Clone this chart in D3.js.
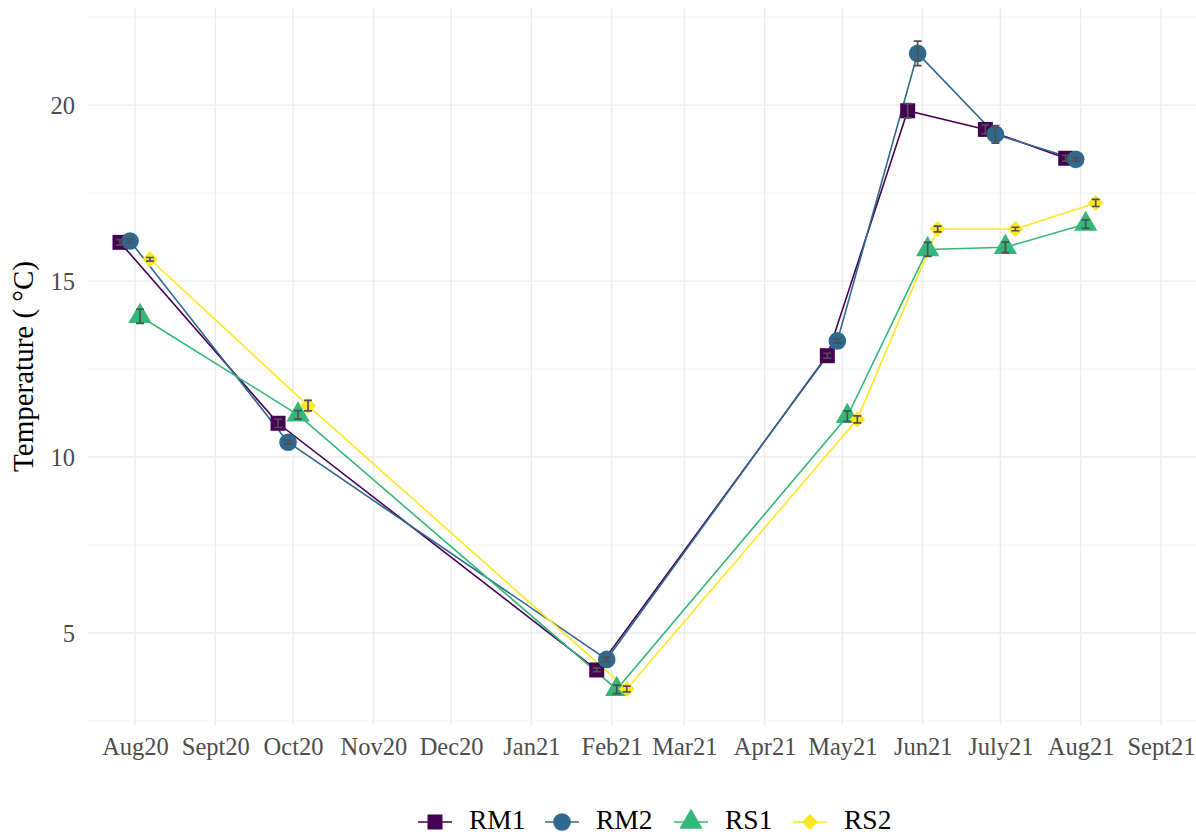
<!DOCTYPE html>
<html>
<head>
<meta charset="utf-8">
<script src="https://cdn.jsdelivr.net/npm/d3@7"></script>
<style>
  html, body { margin: 0; padding: 0; background: #ffffff; }
  svg { display: block; }
  text { font-family: "Liberation Serif", "Times New Roman", serif; }
</style>
</head>
<body>
<svg id="chart" width="1196" height="836"></svg>
<script>
// ---------- data ----------
const seriesNames = ["RM1", "RM2", "RS1", "RS2"];
const sampleDates = ["2020-08-01", "2020-10-01", "2021-02-01", "2021-05-01", "2021-06-01", "2021-07-01", "2021-08-01"];
const rm1Values = [16.10, 10.96, 3.95, 12.88, 19.84, 19.31, 18.49];
const rm2Values = [16.14, 10.42, 4.25, 13.30, 21.47, 19.17, 18.46];
const rs1Values = [14.00, 11.20, 3.40, 11.16, 15.90, 15.96, 16.62];
const rs2Values = [15.62, 11.46, 3.41, 11.07, 16.48, 16.48, 17.22];
const rm1Err = [0.08, 0.12, 0.05, 0.07, 0.20, 0.12, 0.08];
const rm2Err = [0.05, 0.05, 0.06, 0.06, 0.35, 0.25, 0.05];
const rs1Err = [0.20, 0.12, 0.12, 0.15, 0.20, 0.15, 0.12];
const rs2Err = [0.05, 0.15, 0.08, 0.10, 0.08, 0.05, 0.10];
const xTickDates = ["2020-08-01", "2020-09-01", "2020-10-01", "2020-11-01", "2020-12-01", "2021-01-01",
                    "2021-02-01", "2021-03-01", "2021-04-01", "2021-05-01", "2021-06-01", "2021-07-01",
                    "2021-08-01", "2021-09-01"];
const xTickLabels = ["Aug20", "Sept20", "Oct20", "Nov20", "Dec20", "Jan21", "Feb21", "Mar21", "Apr21",
                     "May21", "Jun21", "July21", "Aug21", "Sept21"];
const yTicks = [5, 10, 15, 20];
const yMinorTicks = [2.5, 7.5, 12.5, 17.5, 22.5];
const yLabel = "Temperature ( °C)";
const colors = ["#440154", "#31688E", "#35B779", "#FDE725"];

const valuesBySeries = [rm1Values, rm2Values, rs1Values, rs2Values];
const errBySeries = [rm1Err, rm2Err, rs1Err, rs2Err];
const parse = d3.utcParse("%Y-%m-%d");

const series = seriesNames.map((name, i) => ({
  name,
  color: colors[i],
  points: sampleDates.map((d, j) => ({ date: parse(d), value: valuesBySeries[i][j], err: errBySeries[i][j] }))
}));

// ---------- layout ----------
const svg = d3.select("#chart");
const panel = { left: 88, right: 1196, top: 8, bottom: 725 };

const dayMs = 86400000;
const x0 = parse("2020-08-01");
const x = d3.scaleUtc()
  .domain([new Date(+x0 - 18.14 * dayMs), new Date(+x0 + 409.5 * dayMs)])
  .range([panel.left, panel.right]);
const y = d3.scaleLinear()
  .domain([2.386, 22.76])
  .range([panel.bottom, panel.top]);
const dodge = d3.scalePoint().domain(seriesNames).range([-15, 15]);

// ---------- grid ----------
const grid = svg.append("g");
grid.selectAll("line.minor").data(yMinorTicks).join("line")
  .attr("x1", panel.left).attr("x2", panel.right)
  .attr("y1", d => y(d)).attr("y2", d => y(d))
  .attr("stroke", "#F2F2F2").attr("stroke-width", 1);
grid.selectAll("line.majory").data(yTicks).join("line")
  .attr("x1", panel.left).attr("x2", panel.right)
  .attr("y1", d => y(d)).attr("y2", d => y(d))
  .attr("stroke", "#EBEBEB").attr("stroke-width", 1.4);
grid.selectAll("line.majorx").data(xTickDates).join("line")
  .attr("x1", d => x(parse(d))).attr("x2", d => x(parse(d)))
  .attr("y1", panel.top).attr("y2", panel.bottom)
  .attr("stroke", "#EBEBEB").attr("stroke-width", 1.4);

// ---------- axes ----------
const xAxis = d3.axisBottom(x)
  .tickValues(xTickDates.map(parse))
  .tickFormat((d, i) => xTickLabels[i])
  .tickSize(0).tickPadding(0);
const gx = svg.append("g").attr("transform", `translate(0,${panel.bottom})`).call(xAxis);
gx.select(".domain").remove();
gx.selectAll("text")
  .attr("y", 30).attr("dy", 0)
  .attr("fill", "#4D4D4D")
  .style("font-size", "24.5px")
  .style("font-family", "'Liberation Serif', serif");

const yAxis = d3.axisLeft(y).tickValues(yTicks).tickFormat(d3.format("d")).tickSize(0).tickPadding(0);
const gy = svg.append("g").attr("transform", `translate(${panel.left - 13},0)`).call(yAxis);
gy.select(".domain").remove();
gy.selectAll("text")
  .attr("x", 0).attr("dy", "0.34em")
  .attr("fill", "#4D4D4D")
  .style("font-size", "24.5px")
  .style("font-family", "'Liberation Serif', serif");

svg.append("text")
  .attr("transform", `translate(33,${(panel.top + panel.bottom) / 2}) rotate(-90)`)
  .attr("text-anchor", "middle")
  .attr("fill", "#000")
  .style("font-size", "29px")
  .text(yLabel);

// ---------- symbols ----------
function symbolPath(i) {
  if (i === 0) return d3.symbol(d3.symbolSquare, 225)();
  if (i === 1) return d3.symbol(d3.symbolCircle, 245)();
  if (i === 2) return d3.symbol(d3.symbolTriangle, 235)();
  return d3.symbol(d3.symbolSquare, 128)();
}
function symbolRotate(i) { return i === 3 ? " rotate(45)" : ""; }

// ---------- lines ----------
const px = (s, p) => x(p.date) + dodge(s.name);
const line = d3.line();
svg.append("g").selectAll("path").data(series).join("path")
  .attr("d", s => line(s.points.map(p => [px(s, p), y(p.value)])))
  .attr("fill", "none")
  .attr("stroke", s => s.color)
  .attr("stroke-width", 1.6);

// ---------- points ----------
series.forEach((s, i) => {
  svg.append("g").selectAll("path").data(s.points).join("path")
    .attr("d", symbolPath(i))
    .attr("transform", p => `translate(${px(s, p)},${y(p.value)})${symbolRotate(i)}`)
    .attr("fill", s.color);
});

// ---------- error bars ----------
const eb = svg.append("g").attr("stroke", "#505050").attr("stroke-width", 1.7).attr("fill", "none");
series.forEach(s => {
  s.points.forEach(p => {
    const cx = px(s, p), y1 = y(p.value - p.err), y2 = y(p.value + p.err);
    eb.append("path").attr("d", `M${cx - 4},${y1}H${cx + 4}M${cx},${y1}V${y2}M${cx - 4},${y2}H${cx + 4}`);
  });
});

// ---------- legend ----------
const legendKeyX = [435, 562, 691, 810];
const legendY = 822;
const lg = svg.append("g");
series.forEach((s, i) => {
  const g = lg.append("g").attr("transform", `translate(${legendKeyX[i]},${legendY})`);
  g.append("line").attr("x1", -17).attr("x2", 17).attr("stroke", s.color).attr("stroke-width", 1.6);
  g.append("path").attr("d", symbolPath(i)).attr("fill", s.color)
    .attr("transform", symbolRotate(i).trim());
  g.append("text").attr("x", 34).attr("y", 7).attr("fill", "#000")
    .style("font-size", "27.5px").text(s.name);
});
</script>
</body>
</html>
